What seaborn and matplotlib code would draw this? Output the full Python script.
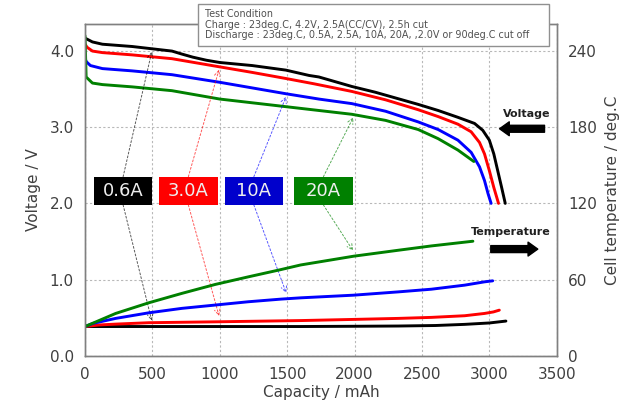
import numpy as np
import matplotlib
matplotlib.use('Agg')
import matplotlib.pyplot as plt
import seaborn as sns
from matplotlib.patches import Rectangle

# Discharge data (capacity in mAh)
labels = ['0.6A', '3.0A', '10A', '20A']
colors = ['#000000', '#ff0000', '#0000ff', '#008000']
box_colors = ['#000000', '#ff0000', '#0000cc', '#008000']

cap_v_06 = [0, 55, 129, 350, 497, 645, 720, 800, 900, 1000, 1240, 1490, 1662, 1735, 1980, 2153,
            2472, 2620, 2767, 2890, 2951, 3000, 3033, 3062, 3091, 3118]
volt_06 = [4.17, 4.12, 4.09, 4.06, 4.03, 4.00, 3.96, 3.92, 3.88, 3.85, 3.81, 3.75, 3.68, 3.66, 3.535, 3.46,
           3.30, 3.22, 3.13, 3.05, 2.96, 2.83, 2.65, 2.43, 2.21, 2.00]

cap_v_30 = [0, 15, 55, 129, 350, 645, 975, 1240, 1490, 1700, 1980, 2230, 2472, 2620, 2767, 2865,
            2927, 2964, 3000, 3033, 3068]
volt_30 = [4.09, 4.05, 4.00, 3.98, 3.95, 3.90, 3.80, 3.72, 3.64, 3.57, 3.47, 3.36, 3.23, 3.14, 3.04, 2.94,
           2.80, 2.65, 2.43, 2.21, 2.00]

cap_v_10 = [0, 10, 40, 129, 350, 645, 1000, 1490, 1735, 1980, 2230, 2472, 2620, 2767, 2865, 2927,
            2964, 2990, 3013]
volt_10 = [3.90, 3.86, 3.81, 3.77, 3.74, 3.69, 3.59, 3.44, 3.37, 3.31, 3.21, 3.07, 2.97, 2.83, 2.67, 2.48,
           2.30, 2.13, 2.00]

cap_v_20 = [0, 8, 55, 129, 350, 645, 1000, 1490, 1735, 1980, 2230, 2472, 2620, 2767, 2885]
volt_20 = [4.20, 3.66, 3.58, 3.56, 3.53, 3.48, 3.37, 3.27, 3.22, 3.17, 3.09, 2.97, 2.85, 2.70, 2.55]

cap_t_06 = [0, 500, 1000, 1600, 2000, 2325, 2600, 2817, 3000, 3123]
temp_06 = [23.0, 23.0, 23.0, 23.0, 23.2, 23.4, 23.8, 24.7, 25.8, 27.3]

cap_t_30 = [0, 100, 227, 473, 964, 1603, 1993, 2325, 2570, 2817, 2964, 3030, 3074]
temp_30 = [23.0, 24.2, 24.9, 26.0, 26.7, 27.7, 28.6, 29.4, 30.2, 31.5, 33.3, 34.5, 35.9]

cap_t_10 = [0, 60, 227, 473, 718, 964, 1210, 1455, 1600, 1993, 2325, 2570, 2817, 2964, 3025]
temp_10 = [23.0, 25.5, 29.4, 33.8, 37.3, 39.9, 42.5, 44.6, 45.6, 47.7, 50.3, 52.4, 55.6, 58.2, 59.0]

cap_t_20 = [0, 227, 473, 718, 964, 1210, 1455, 1600, 1993, 2325, 2570, 2878]
temp_20 = [23.0, 33.3, 41.7, 49.1, 56.1, 62.1, 67.9, 71.5, 78.4, 83.1, 86.5, 90.2]

volt_series = [(cap_v_06, volt_06), (cap_v_30, volt_30), (cap_v_10, volt_10), (cap_v_20, volt_20)]
temp_series = [(cap_t_06, temp_06), (cap_t_30, temp_30), (cap_t_10, temp_10), (cap_t_20, temp_20)]

# where the dashed pointers hit the curves
point_caps = [500, 1000, 1500, 2000]

sns.set_style('white')
plt.rcParams['font.family'] = ['DejaVu Sans']
txt = '#404040'

fig = plt.figure(figsize=(6.37, 4.07), dpi=100)
ax = fig.add_axes([0.1335, 0.126, 0.7405, 0.814])
ax2 = ax.twinx()

for (cx, vy), c in zip(volt_series, colors):
    sns.lineplot(x=cx, y=vy, ax=ax, color=c, lw=2.1, estimator=None, sort=False,
                 solid_joinstyle='round', solid_capstyle='round')
for (cx, ty), c in zip(temp_series, colors):
    sns.lineplot(x=cx, y=ty, ax=ax2, color=c, lw=2.1, estimator=None, sort=False,
                 solid_joinstyle='round', solid_capstyle='round')

ymax = 4.35
ax.set_xlim(0, 3500)
ax.set_ylim(0, ymax)
ax2.set_ylim(0, ymax * 60)
ax.set_xticks(np.arange(0, 3501, 500))
ax.set_yticks([0, 1, 2, 3, 4])
ax.set_yticklabels(['0.0', '1.0', '2.0', '3.0', '4.0'])
ax2.set_yticks([0, 60, 120, 180, 240])

ax.grid(True, color='#b8b8b8', linestyle=(0, (2, 2)), lw=0.8)
for a in (ax, ax2):
    a.tick_params(length=0, labelsize=11, labelcolor=txt)
    for s in a.spines.values():
        s.set_color('#808080')
        s.set_linewidth(1)
ax.tick_params(axis='y', pad=8)
ax.tick_params(axis='x', pad=8)
ax2.tick_params(axis='y', pad=8)

ax.set_xlabel('Capacity / mAh', fontsize=11, color=txt, labelpad=2)
ax.set_ylabel('Voltage / V', fontsize=11, color=txt, labelpad=6)
ax2.set_ylabel('Cell temperature / deg.C', fontsize=11, color=txt, labelpad=6)

# label boxes with dashed pointers
box_left = [65, 549, 1035, 1551]
box_w = 435
box_lo, box_hi = 1.98, 2.35
for i, lab in enumerate(labels):
    x0 = box_left[i]
    ax.add_patch(Rectangle((x0, box_lo), box_w, box_hi - box_lo, facecolor=box_colors[i],
                           edgecolor='none', zorder=5))
    ax.text(x0 + box_w / 2, (box_lo + box_hi) / 2, lab, color='#eeeeee', fontsize=13,
            ha='center', va='center', zorder=6)
    xc = x0 + box_w / 2
    pc = point_caps[i]
    vy = np.interp(pc, *volt_series[i])
    ty = np.interp(pc, *temp_series[i]) / 60
    arrow = dict(arrowstyle='->', color=colors[i], lw=0.7, linestyle=(0, (2, 2)), alpha=0.65,
                 shrinkA=0, shrinkB=2)
    ax.annotate('', xy=(pc, vy), xytext=(xc, box_hi), arrowprops=arrow)
    ax.annotate('', xy=(pc, ty + 0.04), xytext=(xc, box_lo), arrowprops=arrow)

# side markers
fat = dict(arrowstyle='simple,head_length=0.7,head_width=1.0,tail_width=0.5', fc='black', ec='black')
ax.annotate('', xy=(3055, 2.98), xytext=(3430, 2.98), arrowprops=fat, annotation_clip=False)
ax.text(3280, 3.18, 'Voltage', fontsize=8, fontweight='bold', color='#202020', ha='center', va='center')
ax.annotate('', xy=(3380, 1.40), xytext=(2990, 1.40), arrowprops=fat, annotation_clip=False)
ax.text(3160, 1.63, 'Temperature', fontsize=8, fontweight='bold', color='#202020', ha='center', va='center')

# test condition box
W, H = 637, 407
fig.patches.append(Rectangle((197.7 / W, 1 - 45.7 / H), (549.3 - 197.7) / W, (45.7 - 4.3) / H,
                             transform=fig.transFigure, facecolor='white', edgecolor='#909090',
                             lw=1, zorder=10))
cond = ['Test Condition',
        'Charge : 23deg.C, 4.2V, 2.5A(CC/CV), 2.5h cut',
        'Discharge : 23deg.C, 0.5A, 2.5A, 10A, 20A, ,2.0V or 90deg.C cut off']
for k, line in enumerate(cond):
    fig.text(205 / W, 1 - (17 + 10.5 * k) / H, line, fontsize=6.95, color='#505050',
             va='baseline', ha='left', zorder=11)

fig.savefig('out.png', dpi=100)
